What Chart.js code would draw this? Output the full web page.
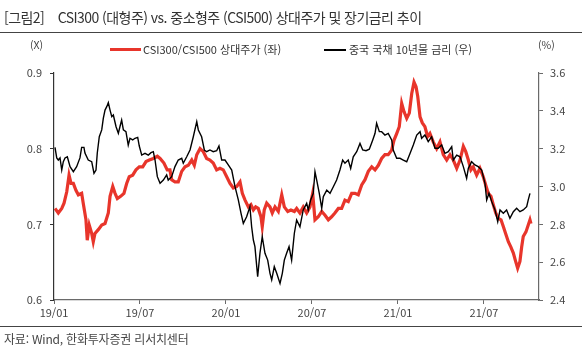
<!DOCTYPE html>
<html lang="ko">
<head>
<meta charset="utf-8">
<script src="https://cdn.jsdelivr.net/npm/chart.js@4.4.1/dist/chart.umd.min.js"></script>
<style>
  body { margin: 0; background: #fff; font-family: "Noto Sans CJK KR", "Noto Sans", sans-serif; color: #333; }
  #page { position: relative; width: 587px; height: 351px; overflow: hidden; }
  #chart { position: absolute; left: 0; top: 0; }
  .txt { position: absolute; white-space: nowrap; }
  .title { left: 4px; top: 7px; font-size: 14px; color: #333; letter-spacing: -0.55px; }
  .rule { position: absolute; left: 0; width: 582px; height: 1px; background: #444; }
  .unit { top: 37px; font-size: 10.5px; color: #444; }
  .legend { top: 41px; font-size: 11px; color: #333; }
  .swatch { position: absolute; height: 3px; }
  .source { left: 4px; top: 330px; font-size: 12px; color: #444; letter-spacing: -0.2px; }
</style>
</head>
<body>
<div id="page">
  <canvas id="chart" width="587" height="351"></canvas>
  <div class="txt title">[그림2]&nbsp;&nbsp;&nbsp;&nbsp;CSI300 (대형주) vs. 중소형주 (CSI500) 상대주가 및 장기금리 추이</div>
  <div class="rule" style="top:32px"></div>
  <div class="txt unit" style="left:30px">(X)</div>
  <div class="txt unit" style="left:538px">(%)</div>
  <div class="swatch" style="left:110px;top:48px;width:31px;background:#e8352b"></div>
  <div class="txt legend" style="left:143px">CSI300/CSI500 상대주가 (좌)</div>
  <div class="swatch" style="left:324px;top:49px;width:22px;height:1.5px;background:#000"></div>
  <div class="txt legend" style="left:349px">중국 국채 10년물 금리 (우)</div>
  <div class="rule" style="top:326px"></div>
  <div class="txt source">자료: Wind, 한화투자증권 리서치센터</div>
</div>
<script>
// x values are months since 2019/01
const xTickMonths = [0, 6, 12, 18, 24, 30];
const xTickLabels = ['19/01', '19/07', '20/01', '20/07', '21/01', '21/07'];
const leftTicks = [0.6, 0.7, 0.8, 0.9];
const rightTicks = [2.4, 2.6, 2.8, 3.0, 3.2, 3.4, 3.6];

// CSI300/CSI500 relative price (left axis, x)
const ratioMonths = [
  0.07, 0.30, 0.54, 0.70, 0.89, 1.05, 1.19, 1.35, 1.53, 1.70, 1.93, 2.04, 2.23, 2.32, 2.46, 2.63, 2.74, 2.86, 3.09, 3.33,
  3.56, 3.79, 3.91, 4.10, 4.26, 4.42, 4.65, 4.88, 5.07, 5.25, 5.49, 5.72, 5.95, 6.19, 6.42, 6.65, 6.93, 7.21, 7.40, 7.67,
  7.90, 8.09, 8.21, 8.44, 8.67, 8.91, 9.14, 9.37, 9.61, 9.79, 9.96, 10.19, 10.42, 10.65, 10.88, 11.11, 11.35, 11.58, 11.81, 12.05,
  12.28, 12.51, 12.75, 12.98, 13.14, 13.33, 13.56, 13.74, 13.91, 14.07, 14.25, 14.44, 14.53, 14.67, 14.84, 15.07, 15.23, 15.42, 15.65, 15.89,
  16.07, 16.31, 16.53, 16.77, 16.93, 17.16, 17.39, 17.63, 17.86, 18.05, 18.21, 18.44, 18.68, 18.91, 19.14, 19.37, 19.60, 19.84, 20.07, 20.30,
  20.53, 20.77, 21.00, 21.23, 21.47, 21.70, 21.93, 22.17, 22.40, 22.63, 22.86, 23.09, 23.32, 23.56, 23.72, 23.91, 24.09, 24.26, 24.42, 24.61,
  24.79, 24.96, 25.12, 25.26, 25.38, 25.54, 25.70, 25.88, 26.07, 26.23, 26.46, 26.70, 26.93, 27.16, 27.40, 27.63, 27.86, 28.10, 28.33, 28.56,
  28.73, 28.91, 29.09, 29.25, 29.49, 29.72, 29.95, 30.12, 30.30, 30.49, 30.65, 30.82, 31.00, 31.19, 31.35, 31.51, 31.70, 31.88, 32.05, 32.21,
  32.35, 32.51, 32.63, 32.74, 32.93, 33.09, 33.21, 33.28
];
const ratioValues = [
  0.721, 0.715, 0.721, 0.728, 0.743, 0.765, 0.754, 0.754, 0.745, 0.739, 0.741, 0.728, 0.706, 0.679, 0.699, 0.688, 0.677, 0.688, 0.693, 0.699,
  0.701, 0.715, 0.737, 0.750, 0.741, 0.734, 0.737, 0.741, 0.754, 0.763, 0.765, 0.772, 0.776, 0.776, 0.783, 0.785, 0.787, 0.790, 0.787, 0.781,
  0.772, 0.772, 0.759, 0.756, 0.756, 0.770, 0.776, 0.778, 0.785, 0.778, 0.792, 0.800, 0.796, 0.787, 0.785, 0.781, 0.772, 0.774, 0.772, 0.763,
  0.754, 0.748, 0.750, 0.756, 0.741, 0.732, 0.723, 0.726, 0.719, 0.723, 0.721, 0.710, 0.697, 0.719, 0.728, 0.723, 0.715, 0.723, 0.717, 0.739,
  0.723, 0.717, 0.719, 0.717, 0.721, 0.715, 0.723, 0.715, 0.723, 0.741, 0.706, 0.710, 0.717, 0.712, 0.706, 0.710, 0.715, 0.721, 0.721, 0.732,
  0.730, 0.741, 0.741, 0.739, 0.752, 0.759, 0.770, 0.776, 0.772, 0.778, 0.787, 0.792, 0.792, 0.798, 0.811, 0.820, 0.829, 0.860, 0.849, 0.840,
  0.847, 0.873, 0.888, 0.882, 0.869, 0.842, 0.834, 0.829, 0.816, 0.820, 0.809, 0.800, 0.809, 0.792, 0.785, 0.792, 0.785, 0.774, 0.785, 0.803,
  0.796, 0.785, 0.772, 0.776, 0.765, 0.774, 0.763, 0.752, 0.741, 0.737, 0.726, 0.715, 0.708, 0.706, 0.697, 0.688, 0.677, 0.670, 0.662, 0.651,
  0.642, 0.651, 0.670, 0.684, 0.690, 0.699, 0.706, 0.701
];

// China 10Y government bond yield (right axis, %)
const rateMonths = [
  0.07, 0.19, 0.30, 0.42, 0.54, 0.65, 0.77, 0.93, 1.12, 1.35, 1.58, 1.81, 1.93, 2.09, 2.16, 2.39, 2.63, 2.79, 2.93, 3.02,
  3.16, 3.33, 3.44, 3.56, 3.68, 3.79, 3.91, 4.03, 4.14, 4.33, 4.49, 4.60, 4.72, 4.84, 5.02, 5.18, 5.30, 5.49, 5.65, 5.84,
  5.95, 6.12, 6.35, 6.58, 6.77, 6.93, 7.05, 7.21, 7.40, 7.63, 7.86, 7.97, 8.21, 8.44, 8.67, 8.91, 9.02, 9.26, 9.49, 9.72,
  9.96, 10.07, 10.30, 10.49, 10.65, 10.88, 11.11, 11.35, 11.51, 11.70, 11.93, 12.16, 12.40, 12.63, 12.86, 13.05, 13.21, 13.44, 13.67, 13.79,
  13.91, 14.02, 14.21, 14.37, 14.53, 14.72, 14.91, 15.07, 15.19, 15.37, 15.54, 15.77, 15.93, 16.07, 16.23, 16.40, 16.58, 16.77, 16.93, 17.16,
  17.39, 17.63, 17.74, 17.91, 18.09, 18.21, 18.33, 18.51, 18.68, 18.79, 19.03, 19.26, 19.49, 19.72, 19.95, 20.14, 20.30, 20.53, 20.70, 20.88,
  21.12, 21.35, 21.54, 21.77, 22.00, 22.24, 22.40, 22.51, 22.70, 22.86, 23.09, 23.32, 23.56, 23.67, 23.91, 24.14, 24.37, 24.61, 24.84, 25.07,
  25.31, 25.54, 25.65, 25.88, 26.11, 26.35, 26.58, 26.81, 27.05, 27.28, 27.51, 27.75, 27.86, 28.10, 28.33, 28.56, 28.79, 28.91, 29.14, 29.37,
  29.60, 29.84, 30.07, 30.19, 30.35, 30.54, 30.77, 30.96, 31.12, 31.35, 31.58, 31.81, 32.05, 32.28, 32.51, 32.74, 32.98, 33.09, 33.21
];
const rateValues = [
  3.207, 3.151, 3.140, 3.151, 3.087, 3.131, 3.151, 3.157, 3.105, 3.078, 3.105, 3.151, 3.207, 3.207, 3.177, 3.140, 3.131, 3.070, 3.087, 3.177,
  3.263, 3.299, 3.360, 3.404, 3.422, 3.443, 3.404, 3.369, 3.378, 3.316, 3.281, 3.316, 3.351, 3.299, 3.290, 3.219, 3.255, 3.246, 3.255, 3.260,
  3.214, 3.166, 3.175, 3.166, 3.179, 3.184, 3.140, 3.052, 3.017, 3.034, 3.061, 3.034, 3.052, 3.105, 3.140, 3.149, 3.123, 3.157, 3.193, 3.263,
  3.343, 3.299, 3.263, 3.193, 3.184, 3.193, 3.184, 3.189, 3.214, 3.140, 3.140, 3.114, 3.087, 2.999, 2.929, 2.858, 2.805, 2.840, 2.893, 2.787,
  2.717, 2.682, 2.523, 2.647, 2.735, 2.647, 2.611, 2.541, 2.506, 2.576, 2.541, 2.488, 2.541, 2.611, 2.647, 2.682, 2.611, 2.753, 2.823, 2.787,
  2.876, 2.911, 2.876, 2.929, 2.964, 3.078, 3.034, 2.964, 2.885, 2.946, 2.981, 2.964, 2.999, 3.034, 3.087, 3.140, 3.123, 3.140, 3.096, 3.157,
  3.184, 3.228, 3.193, 3.189, 3.197, 3.246, 3.281, 3.334, 3.290, 3.290, 3.272, 3.281, 3.246, 3.193, 3.149, 3.149, 3.140, 3.131, 3.175, 3.219,
  3.272, 3.290, 3.255, 3.272, 3.237, 3.263, 3.202, 3.202, 3.219, 3.175, 3.184, 3.210, 3.140, 3.166, 3.157, 3.105, 3.043, 3.096, 3.131, 3.114,
  3.105, 3.087, 3.017, 2.929, 2.964, 2.920, 2.876, 2.814, 2.876, 2.858, 2.876, 2.832, 2.867, 2.885, 2.867, 2.876, 2.893, 2.929, 2.964
];

const tickFont = { family: '"Noto Sans CJK KR", sans-serif', size: 11 };
const axisColor = '#6a6a6a';

function toPoints(xs, ys) {
  return xs.map((x, i) => ({ x: x, y: ys[i] }));
}

new Chart(document.getElementById('chart'), {
  type: 'line',
  data: {
    datasets: [
      {
        label: 'CSI300/CSI500 상대주가 (좌)',
        data: toPoints(ratioMonths, ratioValues),
        borderColor: '#e8352b',
        borderWidth: 3.2,
        pointRadius: 0,
        tension: 0,
        yAxisID: 'yL',
        order: 2
      },
      {
        label: '중국 국채 10년물 금리 (우)',
        data: toPoints(rateMonths, rateValues),
        borderColor: '#000',
        borderWidth: 1.4,
        pointRadius: 0,
        tension: 0,
        yAxisID: 'yR',
        order: 1
      }
    ]
  },
  options: {
    responsive: false,
    animation: false,
    devicePixelRatio: 1,
    layout: { padding: { top: 73, left: 0, right: 0, bottom: 0 } },
    plugins: { legend: { display: false }, tooltip: { enabled: false } },
    scales: {
      x: {
        type: 'linear',
        min: 0,
        max: 33.84,
        afterBuildTicks: function(scale) {
          scale.ticks = xTickMonths.map(v => ({ value: v }));
        },
        afterFit: function(scale) { scale.height = 51; },
        ticks: {
          autoSkip: false,
          maxRotation: 0,
          padding: 2,
          color: '#444',
          font: tickFont,
          callback: function(value, index) { return xTickLabels[index]; }
        },
        grid: { drawOnChartArea: false, tickLength: 4, color: axisColor },
        border: { color: axisColor, width: 1.2 }
      },
      yL: {
        position: 'left',
        min: 0.6,
        max: 0.9,
        afterBuildTicks: function(scale) {
          scale.ticks = leftTicks.map(v => ({ value: v }));
        },
        afterFit: function(scale) { scale.width = 54; },
        ticks: {
          padding: 8,
          color: '#444',
          font: tickFont,
          callback: function(value) { return value.toFixed(1); }
        },
        grid: { drawOnChartArea: false, tickLength: 4, color: '#333' },
        border: { color: '#333', width: 1.2 }
      },
      yR: {
        position: 'right',
        min: 2.4,
        max: 3.6,
        afterBuildTicks: function(scale) {
          scale.ticks = rightTicks.map(v => ({ value: v }));
        },
        afterFit: function(scale) { scale.width = 48; },
        ticks: {
          padding: 7,
          color: '#444',
          font: tickFont,
          callback: function(value) { return value.toFixed(1); }
        },
        grid: { drawOnChartArea: false, tickLength: 4, color: axisColor },
        border: { color: axisColor, width: 1.2 }
      }
    }
  }
});
</script>
</body>
</html>
